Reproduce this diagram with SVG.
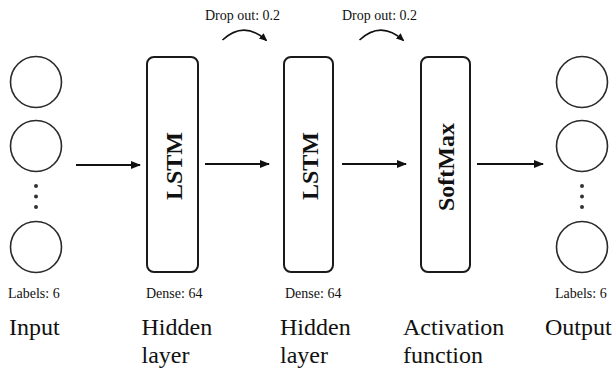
<svg xmlns="http://www.w3.org/2000/svg" width="613" height="371" viewBox="0 0 613 371">
<style>
.c{fill:#fff;stroke:#2a2a2a;stroke-width:1.6}
.box{fill:#fff;stroke:#1a1a1a;stroke-width:2}
.dot{fill:#333}
.ln{fill:none;stroke:#111;stroke-width:2}
.cv{fill:none;stroke:#111;stroke-width:1.6}
text{font-family:"Liberation Serif","Times New Roman","DejaVu Serif",serif;fill:#111}
.s{font-size:14px}
.b{font-size:24px}
.bold{font-size:24px;font-weight:bold}
</style>
<defs>
<marker id="ah" markerWidth="10" markerHeight="8" refX="9" refY="4" orient="auto" markerUnits="userSpaceOnUse">
<path d="M0,0 L10,4 L0,8 Z" fill="#111"/>
</marker>
<marker id="ah2" markerWidth="8" markerHeight="7" refX="7" refY="3.5" orient="auto" markerUnits="userSpaceOnUse">
<path d="M0,0 L8,3.5 L0,7 Z" fill="#111"/>
</marker>
</defs>
<g id="input">
<circle class="c" cx="36" cy="82" r="25.5"/>
<circle class="c" cx="36" cy="146" r="25.5"/>
<circle class="dot" cx="36" cy="186" r="2"/>
<circle class="dot" cx="36" cy="196.5" r="2"/>
<circle class="dot" cx="36" cy="207" r="2"/>
<circle class="c" cx="36" cy="247" r="25.5"/>
<text class="s" x="8" y="298" font-family="Liberation Serif, serif">Labels: 6</text>
<text class="b" x="9" y="335" font-family="Liberation Serif, serif">Input</text>
</g>
<g id="lstm1">
<rect class="box" x="147" y="57" width="51" height="215" rx="7"/>
<text class="bold" transform="translate(174,166) rotate(-90)" text-anchor="middle" dominant-baseline="central">LSTM</text>
<text class="s" x="146" y="298">Dense: 64</text>
<text class="b" x="141.5" y="335">Hidden</text>
<text class="b" x="141.5" y="363">layer</text>
</g>
<g id="lstm2">
<rect class="box" x="284" y="57" width="49" height="215" rx="7"/>
<text class="bold" transform="translate(310,166) rotate(-90)" text-anchor="middle" dominant-baseline="central">LSTM</text>
<text class="s" x="285" y="298">Dense: 64</text>
<text class="b" x="280" y="335">Hidden</text>
<text class="b" x="280" y="363">layer</text>
</g>
<g id="softmax">
<rect class="box" x="421" y="57" width="49" height="215" rx="7"/>
<text class="bold" transform="translate(446,167) rotate(-90)" text-anchor="middle" dominant-baseline="central">SoftMax</text>
<text class="b" x="403" y="335">Activation</text>
<text class="b" x="403" y="363">function</text>
</g>
<g id="output">
<circle class="c" cx="582" cy="82" r="25.5"/>
<circle class="c" cx="582" cy="146" r="25.5"/>
<circle class="dot" cx="582" cy="186" r="2"/>
<circle class="dot" cx="582" cy="196.5" r="2"/>
<circle class="dot" cx="582" cy="207" r="2"/>
<circle class="c" cx="582" cy="247" r="25.5"/>
<text class="s" x="555" y="298">Labels: 6</text>
<text class="b" x="545" y="335">Output</text>
</g>
<g id="dropout1">
<text class="s" x="205" y="20">Drop out: 0.2</text>
</g>
<g id="dropout2">
<text class="s" x="342" y="20">Drop out: 0.2</text>
</g>
<g id="connectors">
<line class="ln" x1="76" y1="165" x2="140" y2="165" marker-end="url(#ah)"/>
<line class="ln" x1="205" y1="164" x2="269" y2="164" marker-end="url(#ah)"/>
<line class="ln" x1="342" y1="164" x2="406" y2="164" marker-end="url(#ah)"/>
<line class="ln" x1="477" y1="164" x2="543" y2="164" marker-end="url(#ah)"/>
<path class="cv" d="M222.5,40 Q244,20 266.5,40.5" marker-end="url(#ah2)"/>
<path class="cv" d="M359.5,40 Q381,20 403.5,40.5" marker-end="url(#ah2)"/>
</g>
</svg>
